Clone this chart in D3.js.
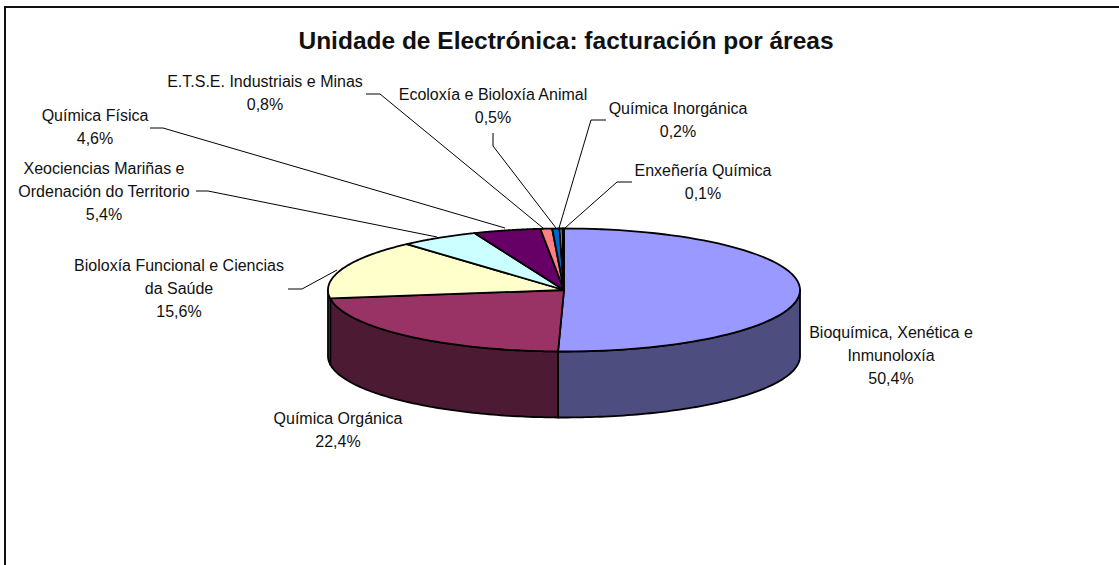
<!DOCTYPE html>
<html><head><meta charset="utf-8">
<script src="https://cdn.jsdelivr.net/npm/d3@7"></script>
<style>html,body{margin:0;padding:0;background:#fff}svg{display:block}
text{font-family:"Liberation Sans",Arial,sans-serif;fill:#111}</style></head>
<body><svg id="c" width="1119" height="565"></svg>
<script>
const title = "Unidade de Electrónica: facturación por áreas";
const categories = ["Bioquímica, Xenética e Inmunoloxía","Química Orgánica","Bioloxía Funcional e Ciencias da Saúde","Xeociencias Mariñas e Ordenación do Territorio","Química Física","E.T.S.E. Industriais e Minas","Ecoloxía e Bioloxía Animal","Química Inorgánica","Enxeñería Química"];
const values = [50.4,22.4,15.6,5.4,4.6,0.8,0.5,0.2,0.1];
const topColors = ["#9999ff","#993366","#ffffcc","#ccffff","#660066","#ff8080","#0066cc","#ccccff","#e8e8ff"];
const sideColors = ["#4d4d80","#4d1a33","#808066","#668080","#330033","#804040","#003366","#666680","#747480"];
const labelLines = [["Bioquímica, Xenética e","Inmunoloxía","50,4%"],["Química Orgánica","22,4%"],["Bioloxía Funcional e Ciencias","da Saúde","15,6%"],["Xeociencias Mariñas e","Ordenación do Territorio","5,4%"],["Química Física","4,6%"],["E.T.S.E. Industriais e Minas","0,8%"],["Ecoloxía e Bioloxía Animal","0,5%"],["Química Inorgánica","0,2%"],["Enxeñería Química","0,1%"]];
const labelCenters = [[891,355],[338,430],[179,288],[104,191],[95,127],[265,93],[493,106],[678,119.5],[703,181.5]];
const leaders = [null,null,[[288,289],[302,289],[337,270]],[[196,191],[208,191],[437,237]],[[150,128],[163,128],[505,228]],[[366,94],[380,94],[543,228]],[[493,133],[493,146],[556,228]],[[606,120],[591,120],[559,228]],[[632,182],[617,182],[565,228]]];

const svg = d3.select("#c");
const cx=564, cy=290, rx=236, ry=61.5, depth=66;
const pie = d3.pie().sort(null).value(d=>d);
const arcs = pie(values);
const px = a => cx + rx*Math.sin(a), py = a => cy - ry*Math.cos(a);
const line = d3.line();
const samples = (a0,a1) => d3.range(0,81).map(i => { const a=a0+(a1-a0)*i/80; return [px(a),py(a)]; });

// frame: left and top edges only, running off the picture
svg.append("path").attr("d","M5,565V7H1119").attr("fill","none").attr("stroke","#111").attr("stroke-width",2);

// side wall (only the front half of the ellipse is visible)
const vis0=Math.PI/2, vis1=3*Math.PI/2;
arcs.forEach((d,i)=>{
  const a0=Math.max(d.startAngle,vis0), a1=Math.min(d.endAngle,vis1);
  if(a1<=a0) return;
  const t=samples(a0,a1), b=t.slice().reverse().map(p=>[p[0],p[1]+depth]);
  svg.append("path").attr("d",line(t.concat(b))+"Z").attr("fill",sideColors[i]).attr("stroke","#000").attr("stroke-width",1.8).attr("stroke-linejoin","round");
});
// top face
arcs.forEach((d,i)=>{
  svg.append("path").attr("d",line([[cx,cy]].concat(samples(d.startAngle,d.endAngle)))+"Z").attr("fill",topColors[i]).attr("stroke","#000").attr("stroke-width",1.8).attr("stroke-linejoin","round");
});
// leaders
leaders.forEach(l=>{ if(l) svg.append("path").attr("d",line(l)).attr("fill","none").attr("stroke","#000").attr("stroke-width",1); });
// labels
labelLines.forEach((ls,i)=>{
  const t=svg.append("text").attr("text-anchor","middle").attr("font-size",16);
  const y0=labelCenters[i][1]-(ls.length-1)*11.5;
  ls.forEach((s,j)=>t.append("tspan").attr("x",labelCenters[i][0]).attr("y",y0+j*23+5.5).text(s));
});
svg.append("text").attr("x",566).attr("y",49).attr("text-anchor","middle").attr("font-size",24.5).attr("font-weight","bold").text(title);
</script></body></html>
